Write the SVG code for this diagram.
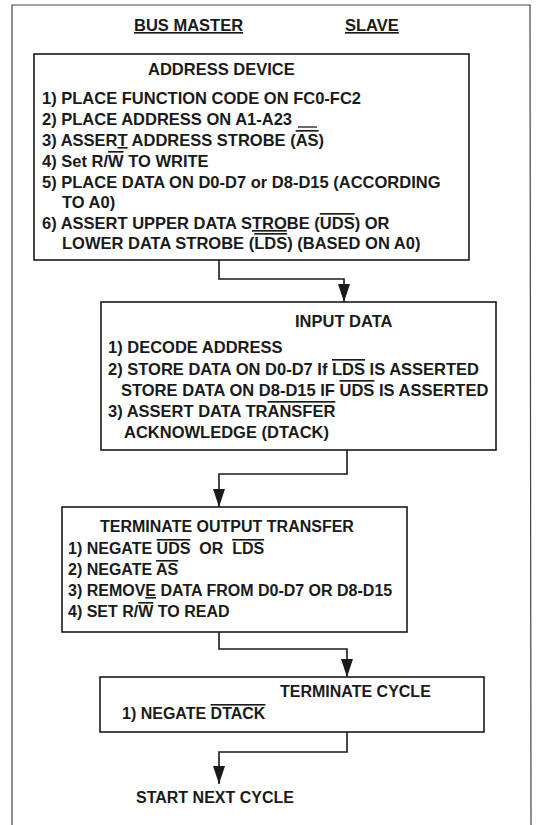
<svg xmlns="http://www.w3.org/2000/svg" width="540" height="825" viewBox="0 0 540 825">
<style>
text{font-family:"Liberation Sans",Arial,Helvetica,sans-serif;font-weight:bold;font-size:16.5px;fill:#1a1a1a}
.s16{font-size:16px}
.box{fill:#fff;stroke:#1a1a1a;stroke-width:1.6}
.conn{fill:none;stroke:#1a1a1a;stroke-width:1.6}
.frame{fill:none;stroke:#444;stroke-width:1.2}
.ov{text-decoration:overline}
.ul{text-decoration:underline}
.bar{stroke:#1a1a1a;stroke-width:1.3}
</style>
<defs>
<marker id="ah" viewBox="0 0 18 12" refX="18" refY="6" markerWidth="18" markerHeight="12" markerUnits="userSpaceOnUse" orient="auto">
<path d="M0,0 L18,6 L0,12 z" fill="#1a1a1a"/>
</marker>
</defs>
<rect width="540" height="825" fill="#fff"/>
<path class="frame" d="M12,825 V5 H530 L531,825"/>
<g id="headers">
<text x="134" y="31" class="ul">BUS MASTER</text>
<text x="345" y="31" class="ul">SLAVE</text>
</g>
<g id="address-device">
<rect class="box" x="34" y="54" width="435" height="206"/>
<text x="148" y="75">ADDRESS DEVICE</text>
<text x="42" y="104">1) PLACE FUNCTION CODE ON FC0-FC2</text>
<text x="42" y="125">2) PLACE ADDRESS ON A1-A23</text>
<line class="bar" x1="298" y1="127" x2="317" y2="127"/>
<text x="42" y="146">3) ASSER<tspan class="ul">T</tspan> ADDRESS STROBE (<tspan class="ov">AS</tspan>)</text>
<text x="42" y="167">4) Set R/<tspan class="ov">W</tspan> TO WRITE</text>
<text x="42" y="188">5) PLACE DATA ON D0-D7 or D8-D15 (ACCORDING</text>
<text x="62" y="208">TO A0)</text>
<text x="42" y="229">6) ASSERT UPPER DATA S<tspan class="ul">TRO</tspan>BE (<tspan class="ov">UDS</tspan>) OR</text>
<text x="62" y="249">LOWER DATA STROBE (<tspan class="ov">LDS</tspan>) (BASED ON A0)</text>
</g>
<g id="input-data">
<rect class="box" x="101" y="302" width="395" height="148"/>
<text x="295" y="327">INPUT DATA</text>
<text x="108" y="353">1) DECODE ADDRESS</text>
<text x="108" y="375">2) STORE DATA ON D0-D7 If <tspan class="ov">LDS</tspan> IS ASSERTED</text>
<text x="121" y="396">STORE DATA ON D8-D15 IF <tspan class="ov">UDS</tspan> IS ASSERTED</text>
<text x="108" y="417">3) ASSERT DATA TR<tspan class="ov">ANSFER</tspan></text>
<text x="124" y="438">ACKNOWLEDGE (DTACK)</text>
</g>
<g id="terminate-output-transfer">
<rect class="box" x="62" y="507" width="345" height="125"/>
<text class="s16" x="100" y="532">TERMINATE OUTPUT TRANSFER</text>
<text class="s16" x="68" y="554">1) NEGATE <tspan class="ov">UDS</tspan>&#160; OR &#160;<tspan class="ov">LDS</tspan></text>
<text class="s16" x="68" y="575">2) NEGATE <tspan class="ov">AS</tspan></text>
<text class="s16" x="68" y="596">3) REMOV<tspan class="ul">E</tspan> DATA FROM D0-D7 OR D8-D15</text>
<text class="s16" x="68" y="617">4) SET R/<tspan class="ov">W</tspan> TO READ</text>
</g>
<g id="terminate-cycle">
<rect class="box" x="100" y="677" width="384" height="55"/>
<text class="s16" x="280" y="697">TERMINATE CYCLE</text>
<text class="s16" x="122" y="719">1) NEGATE <tspan class="ov">DTACK</tspan></text>
</g>
<g id="start-next-cycle">
<text class="s16" x="136" y="803">START NEXT CYCLE</text>
</g>
<g id="connectors">
<path class="conn" d="M219,260 V279 H344 V302" marker-end="url(#ah)"/>
<path class="conn" d="M347,450 V474 H219 V507" marker-end="url(#ah)"/>
<path class="conn" d="M219,632 V649 H347 V677" marker-end="url(#ah)"/>
<path class="conn" d="M347,732 V752 H219 V784" marker-end="url(#ah)"/>
</g>
</svg>
